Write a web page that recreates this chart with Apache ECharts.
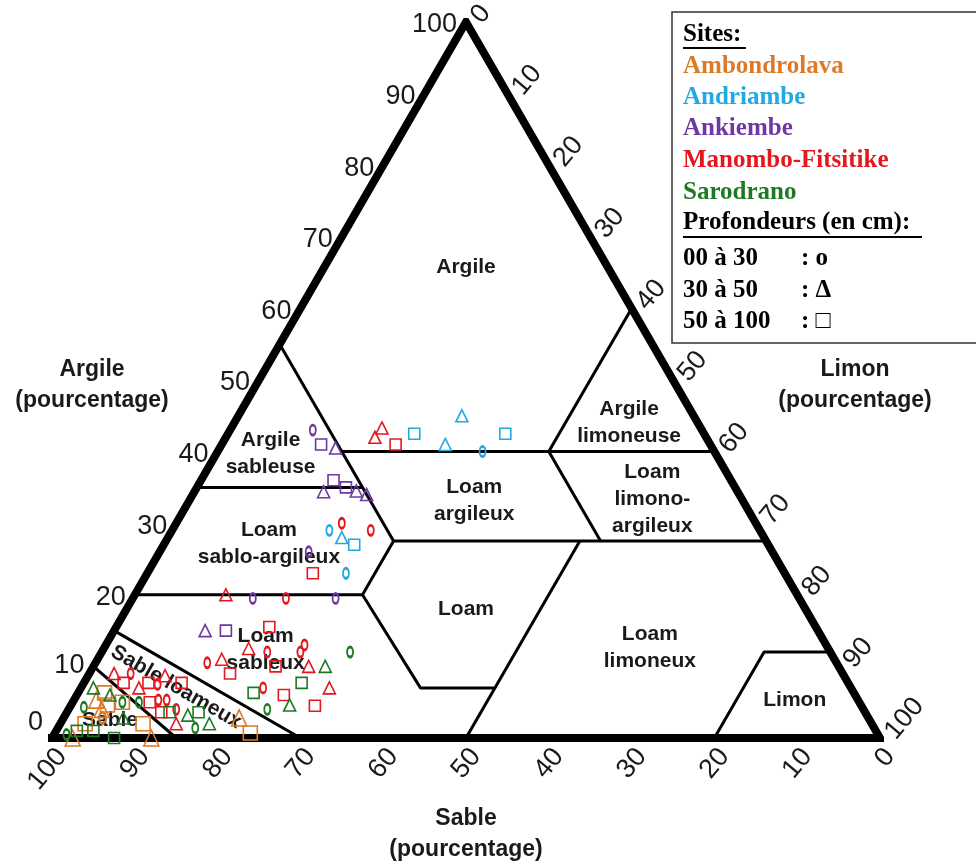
<!DOCTYPE html>
<html><head><meta charset="utf-8">
<script src="https://cdn.jsdelivr.net/npm/echarts@6/dist/echarts.min.js"></script>
<style>html,body{margin:0;padding:0;background:#fff}#c{width:976px;height:864px}</style>
</head><body><div id="c"></div>
<script>
// Each point = [sable %, argile %]; limon % = 100 - sable - argile
const ambondrolava_0_30 = [[92.5,2.8]];
const ambondrolava_30_50 = [[92,5.3],[92,4],[97.5,0],[88,0],[76,2.8]];
const ambondrolava_50_100 = [[90.5,6.3],[89,5],[91,4.6],[88,2],[75.7,0.7],[95,2]];
const andriambe_0_30 = [[28,40],[52,29],[53,23]];
const andriambe_30_50 = [[28,45],[32,41],[51,28]];
const andriambe_50_100 = [[35,42.5],[24,42.5],[50,27]];
const ankiembe_0_30 = [[47,43],[56,26],[66,19.5],[56,19.5]];
const ankiembe_30_50 = [[45.5,40.5],[50,34.4],[46,34.5],[45,34],[74,15]];
const ankiembe_50_100 = [[47,41],[48,36],[47,35],[71.5,15]];
const manombo_0_30 = [[50,30],[47,29],[62,19.5],[63,13],[68,12],[64,12],[76,10.5],[71,7],[86,9],[83.5,7.5],[84.5,5.3],[83.5,5.3],[83,4]];
const manombo_30_50 = [[40,42],[38.5,43.3],[69,20],[70,12.5],[74,11],[64,10],[63,7],[88,9],[86,7],[82,8.7],[84,2]];
const manombo_50_100 = [[38,41],[57,23],[66,15.5],[68,10],[74,9],[69,6],[66,4.5],[87.5,7.7],[84.5,7.7],[80.5,7.7],[85.7,5],[85,3.6]];
const sarodrano_0_30 = [[58,12],[72,4],[82,1.4],[94,4.3],[89,5],[87,5],[98,0.5]];
const sarodrano_30_50 = [[62,10],[69,4.6],[82,3.2],[80,2],[91.5,7],[90,6],[90,2.8]];
const sarodrano_50_100 = [[66,7.7],[72.5,6.3],[80.5,3.6],[84,3.6],[96.5,1],[94.5,1],[92.5,0]];

// Triangle outline and texture-class boundaries, vertices as [sable %, argile %]
const outline = [[100,0],[0,0],[0,100],[100,0]];
const boundaries = [
  [[45,55],[45,27.5]],
  [[65,35],[45,35]],
  [[45,40],[0,40]],
  [[20,40],[0,60]],
  [[20,40],[20,27.5]],
  [[45,27.5],[0,27.5]],
  [[45,27.5],[52.5,20]],
  [[80,20],[52.5,20]],
  [[52.5,20],[52,7],[43,7]],
  [[22.5,27.5],[50,0]],
  [[20,0],[8,12],[0,12]],
  [[85,15],[70,0]],
  [[90,10],[85,0]]
];
const ticks = [0,10,20,30,40,50,60,70,80,90,100];

const siteNames = ['Ambondrolava','Andriambe','Ankiembe','Manombo-Fitsitike','Sarodrano'];
const depthNames = ['00 à 30','30 à 50','50 à 100'];

// ---------- build ----------
const toXY = d => [100 - d[0] - d[1] / 2, d[1]];
const colors = ['#DC7A28','#22A8E2','#6E37A3','#E3181F','#1D7A22'];
const siteSets = [
  [ambondrolava_0_30, ambondrolava_30_50, ambondrolava_50_100],
  [andriambe_0_30, andriambe_30_50, andriambe_50_100],
  [ankiembe_0_30, ankiembe_30_50, ankiembe_50_100],
  [manombo_0_30, manombo_30_50, manombo_50_100],
  [sarodrano_0_30, sarodrano_30_50, sarodrano_50_100]
];
const FONT = '"Liberation Sans", Arial, Helvetica, sans-serif';
const SERIF = '"Liberation Serif", "Times New Roman", serif';
const series = [];

boundaries.forEach(seg => series.push({
  type:'line', data: seg.map(toXY), symbol:'none', silent:true, z:2,
  lineStyle:{color:'#000', width:3, cap:'butt'}
}));
series.push({
  type:'line', data: outline.map(toXY), symbol:'none', silent:true, z:3,
  lineStyle:{color:'#000', width:8, join:'miter', cap:'square'}
});

// region labels (layout anchors in [x-value, argile])
const regionLabels = [
  ['Argile', 50, 65.8, 0],
  ['Argile\nsableuse', 26.4, 39.7, 0],
  ['Loam\nargileux', 51, 33.2, 0],
  ['Argile\nlimoneuse', 69.7, 44, 0],
  ['Loam\nlimono-\nargileux', 72.5, 33.4, 0],
  ['Loam\nsablo-argileux', 26.2, 27.1, 0],
  ['Loam', 50, 18, 0],
  ['Loam\nsableux', 25.8, 12.4, 0],
  ['Loam\nlimoneux', 72.2, 12.6, 0],
  ['Limon', 89.7, 5.3, 0],
  ['Sable', 7, 2.5, 0],
  ['Sable loameux', 15, 7.1, -30]
];
series.push({
  type:'custom', clip:false, silent:true, z:4,
  data: regionLabels.map(r => [r[1], r[2]]),
  renderItem: (p, api) => {
    const r = regionLabels[p.dataIndex];
    const pt = api.coord([api.value(0), api.value(1)]);
    return {type:'text', x:pt[0], y:pt[1], rotation: r[3]*Math.PI/180,
      style:{text:r[0], font:'bold 21px ' + FONT, fill:'#1a1a1a', align:'center', verticalAlign:'middle', lineHeight:27}};
  }
});

// tick labels
function tickSeries(pts, dx, dy, align, rot, extra) {
  return {
    type:'custom', clip:false, silent:true, z:4,
    data: pts,
    renderItem: (p, api) => {
      const pt = api.coord([api.value(0), api.value(1)]);
      const t = ticks[p.dataIndex];
      const e = extra ? extra(t) : [0,0];
      return {type:'text', x:pt[0]+dx+e[0], y:pt[1]+dy+e[1], rotation: rot*Math.PI/180,
        style:{text:String(t), font:'27px ' + FONT, fill:'#1a1a1a', align:align, verticalAlign:'middle'}};
    }
  };
}
series.push(tickSeries(ticks.map(v => toXY([100 - v, v])), -9, 3, 'right', 0, t => t === 0 ? [0,-18] : (t === 10 ? [0,-4] : [0,0])));
series.push(tickSeries(ticks.map(v => toXY([v, 0])), 10, 14, 'right', 50));
series.push(tickSeries(ticks.map(v => toXY([0, 100 - v])), 10, -2, 'left', 50));

// points
const depthStyle = [
  {symbol:'circle', size:[6,10], big:[7,11], bw:2.3},
  {symbol:'triangle', size:[12,12], big:[15,16], bw:1.6},
  {symbol:'rect', size:[11,11], big:[14,14], bw:1.6}
];
siteSets.forEach((sets, si) => sets.forEach((arr, di) => {
  const ds = depthStyle[di];
  series.push({
    type:'scatter', name: siteNames[si] + ' ' + depthNames[di], z:5,
    data: arr.map(toXY), symbol: ds.symbol, symbolSize: si === 0 ? ds.big : ds.size,
    itemStyle:{color:'rgba(0,0,0,0)', borderColor: colors[si], borderWidth: ds.bw, opacity:1},
    emphasis:{disabled:true}
  });
}));

// legend box
const LF = 'bold 25px ' + SERIF;
const legendItems = [
  ['Sites:', '#000'],
  [siteNames[0], colors[0]], [siteNames[1], colors[1]], [siteNames[2], colors[2]],
  [siteNames[3], colors[3]], [siteNames[4], colors[4]],
  ['Profondeurs (en cm):', '#000']
];
const legendYs = [35, 67, 98, 129, 161, 193, 223];
const graphic = [
  {type:'rect', shape:{x:672, y:12, width:330, height:331}, style:{fill:'#fff', stroke:'#333', lineWidth:1.5}, z:10}
];
legendItems.forEach((it, i) => {
  graphic.push({type:'text', x:683, y:legendYs[i], z:11,
    style:{text:it[0], font:LF, fill:it[1], verticalAlign:'middle', align:'left'}});
});
graphic.push({type:'line', shape:{x1:683, y1:48, x2:746, y2:48}, style:{stroke:'#000', lineWidth:2}, z:11});
graphic.push({type:'line', shape:{x1:683, y1:237, x2:922, y2:237}, style:{stroke:'#000', lineWidth:2}, z:11});
const depthMarks = [': o', ': Δ', ': □'];
[259, 291, 322].forEach((y, i) => {
  graphic.push({type:'text', x:683, y:y, z:11, style:{text:depthNames[i], font:LF, fill:'#000', verticalAlign:'middle'}});
  graphic.push({type:'text', x:801, y:y, z:11, style:{text:depthMarks[i], font:LF, fill:'#000', verticalAlign:'middle'}});
});
// axis titles
graphic.push({type:'text', x:92, y:385, z:11, style:{text:'Argile\n(pourcentage)', font:'bold 23px ' + FONT, fill:'#1a1a1a', align:'center', verticalAlign:'middle', lineHeight:31}});
graphic.push({type:'text', x:855, y:385, z:11, style:{text:'Limon\n(pourcentage)', font:'bold 23px ' + FONT, fill:'#1a1a1a', align:'center', verticalAlign:'middle', lineHeight:31}});
graphic.push({type:'text', x:466, y:834, z:11, style:{text:'Sable\n(pourcentage)', font:'bold 23px ' + FONT, fill:'#1a1a1a', align:'center', verticalAlign:'middle', lineHeight:31}});

const chart = echarts.init(document.getElementById('c'));
chart.setOption({
  animation:false,
  backgroundColor:'#fff',
  grid:{left:52, right:96, top:22, bottom:126, containLabel:false},
  xAxis:{type:'value', min:0, max:100, show:false},
  yAxis:{type:'value', min:0, max:100, show:false},
  series: series,
  graphic: graphic
});
</script></body></html>
